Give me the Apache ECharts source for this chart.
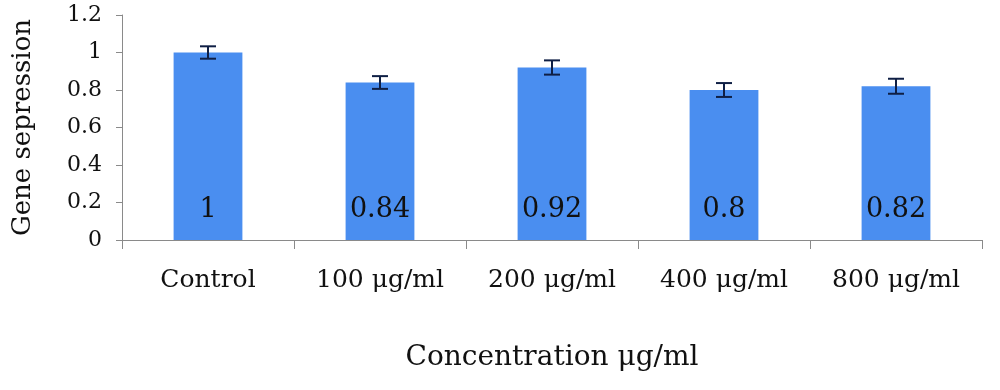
<!DOCTYPE html>
<html>
<head>
<meta charset="utf-8">
<script src="https://cdn.jsdelivr.net/npm/echarts@6/dist/echarts.min.js"></script>
<style>html,body{margin:0;padding:0;background:#fff;}#c{width:1000px;height:390px;}</style>
</head>
<body>
<div id="c"></div>
<script>
const categories = ['Control', '100 μg/ml', '200 μg/ml', '400 μg/ml', '800 μg/ml'];
const values = [1, 0.84, 0.92, 0.8, 0.82];
const errors = [0.033, 0.034, 0.038, 0.037, 0.04];
const yTicks = { min: 0, max: 1.2, interval: 0.2 };

const FONT = 'DejaVu Serif';
const chart = echarts.init(document.getElementById('c'), null, { renderer: 'canvas' });

const errData = values.map((v, i) => [i, v - errors[i], v + errors[i]]);

chart.setOption({
  animation: false,
  backgroundColor: '#ffffff',
  grid: { left: 122, top: 15, right: 18, bottom: 150, containLabel: false, outerBoundsMode: 'none' },
  xAxis: {
    type: 'category',
    data: categories,
    name: 'Concentration μg/ml',
    nameLocation: 'middle',
    nameGap: 104,
    nameTextStyle: { fontFamily: FONT, fontSize: 28, color: '#111' },
    axisLine: { lineStyle: { color: '#8a8a8a', width: 1 } },
    axisTick: { show: true, length: 9, interval: 0, lineStyle: { color: '#8a8a8a' } },
    axisLabel: { fontFamily: FONT, fontSize: 25, color: '#111', margin: 28, interval: 0, hideOverlap: false },
    splitLine: { show: false }
  },
  yAxis: {
    type: 'value',
    min: yTicks.min,
    max: yTicks.max,
    interval: yTicks.interval,
    name: 'Gene sepression',
    nameLocation: 'middle',
    nameGap: 86,
    nameRotate: 90,
    nameTextStyle: { fontFamily: FONT, fontSize: 26, color: '#111' },
    axisLine: { show: true, lineStyle: { color: '#8a8a8a', width: 1 } },
    axisTick: { show: true, length: 6, lineStyle: { color: '#8a8a8a' } },
    axisLabel: {
      fontFamily: FONT, fontSize: 22, color: '#111', margin: 20,
      formatter: v => String(Math.round(v * 10) / 10)
    },
    splitLine: { show: false }
  },
  series: [
    {
      type: 'bar',
      data: values,
      barWidth: '40%',
      itemStyle: { color: '#4a8ef0' },
      label: {
        show: true,
        position: 'insideBottom',
        distance: 17,
        fontFamily: FONT,
        fontSize: 27,
        color: '#111',
        formatter: p => String(p.value)
      }
    },
    {
      type: 'custom',
      data: errData,
      z: 10,
      renderItem: function (params, api) {
        const x = api.value(0);
        const lo = api.coord([x, api.value(1)]);
        const hi = api.coord([x, api.value(2)]);
        const hw = 8;
        const style = { stroke: '#0f1f45', lineWidth: 2 };
        return {
          type: 'group',
          children: [
            { type: 'line', shape: { x1: hi[0], y1: hi[1], x2: lo[0], y2: lo[1] }, style: style },
            { type: 'line', shape: { x1: hi[0] - hw, y1: hi[1], x2: hi[0] + hw, y2: hi[1] }, style: style },
            { type: 'line', shape: { x1: lo[0] - hw, y1: lo[1], x2: lo[0] + hw, y2: lo[1] }, style: style }
          ]
        };
      }
    }
  ]
});
</script>
</body>
</html>
